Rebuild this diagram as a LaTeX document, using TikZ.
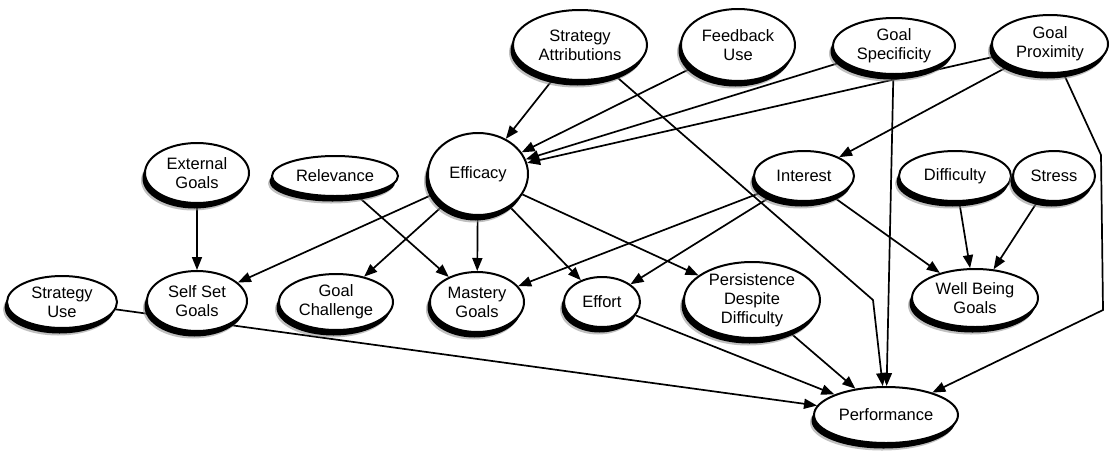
\documentclass[tikz,border=0pt]{standalone}
\usepackage{fontspec}
\setmainfont{Liberation Sans}
\usetikzlibrary{shapes.geometric,arrows.meta,shadows}
\pgfdeclarelayer{bg}
\pgfsetlayers{bg,main}
\begin{document}
\begin{tikzpicture}[x=1pt,y=-1pt,
  nd/.style={ellipse, draw=black, line width=2pt, fill=white, inner sep=0pt,
    align=center, font=\fontsize{16.5}{19}\selectfont,
    general shadow={shadow xshift=-4pt, shadow yshift=-7.5pt, fill=black!45, opacity=0.55},
    general shadow={shadow xshift=-2.5pt, shadow yshift=-5.5pt, fill=black, opacity=1}},
  ed/.style={line width=1.7pt, -{Triangle[length=13pt,width=10pt]}},
  ln/.style={line width=1.7pt}]
\useasboundingbox (0,0) rectangle (1111,461);
% top row
\node[nd, minimum width=134pt, minimum height=70pt] (SA) at (580,45) {Strategy\\Attributions};
\node[nd, minimum width=114pt, minimum height=72pt] (FU) at (738,45) {Feedback\\Use};
\node[nd, minimum width=122pt, minimum height=56pt] (GS) at (894,46) {Goal\\Specificity};
\node[nd, minimum width=116pt, minimum height=58pt] (GP) at (1050,44) {Goal\\Proximity};
% middle row
\node[nd, minimum width=104pt, minimum height=60pt] (EG) at (197,173) {External\\Goals};
\node[nd, minimum width=126pt, minimum height=40pt] (RE) at (335,176) {Relevance};
\node[nd, minimum width=100pt, minimum height=82pt] (EF) at (478,174) {Efficacy};
\node[nd, minimum width=100pt, minimum height=50pt] (IN) at (804,176) {Interest};
\node[nd, minimum width=112pt, minimum height=50pt] (DI) at (955,176) {Difficulty};
\node[nd, minimum width=82pt, minimum height=50pt] (ST) at (1054,176) {Stress};
% lower row
\node[nd, minimum width=110pt, minimum height=52pt] (SU) at (62,302) {Strategy\\Use};
\node[nd, minimum width=100pt, minimum height=60pt] (SS) at (197,301) {Self Set\\Goals};
\node[nd, minimum width=114pt, minimum height=56pt] (GC) at (336,302) {Goal\\Challenge};
\node[nd, minimum width=94pt, minimum height=60pt] (MG) at (477,302) {Mastery\\Goals};
\node[nd, minimum width=76pt, minimum height=50pt] (EO) at (602,302) {Effort};
\node[nd, minimum width=136pt, minimum height=76pt, inner ysep=-3pt] (PD) at (752,300) {Persistence\\Despite\\Difficulty};
\node[nd, minimum width=126pt, minimum height=58pt] (WB) at (975,298) {Well Being\\Goals};
\node[nd, minimum width=144pt, minimum height=56pt] (PF) at (886,415) {Performance};
% bend points
\coordinate (bA) at (873,300);
\coordinate (bB) at (1101,155);
\coordinate (bC) at (1103,310);
\begin{pgfonlayer}{bg}
\draw[ed] (SA) -- (EF);
\draw[ed] (SA) -- (bA) -- (PF);
\draw[ed] (FU) -- (EF);
\draw[ed] (GS) -- (EF);
\draw[ed] (GS) -- (PF);
\draw[ed] (GP) -- (EF);
\draw[ed] (GP) -- (IN);
\draw[ed] (GP) -- (bB) -- (bC) -- (PF);
\draw[ed] (EF) -- (SS);
\draw[ed] (EF) -- (GC);
\draw[ed] (EF) -- (MG);
\draw[ed] (EF) -- (EO);
\draw[ed] (EF) -- (PD);
\draw[ed] (RE) -- (MG);
\draw[ed] (EG) -- (SS);
\draw[ed] (IN) -- (MG);
\draw[ed] (IN) -- (EO);
\draw[ed] (IN) -- (WB);
\draw[ed] (DI) -- (WB);
\draw[ed] (ST) -- (WB);
\draw[ed] (SU) -- (PF);
\draw[ed] (EO) -- (PF);
\draw[ed] (PD) -- (PF);
\end{pgfonlayer}
\end{tikzpicture}
\end{document}
